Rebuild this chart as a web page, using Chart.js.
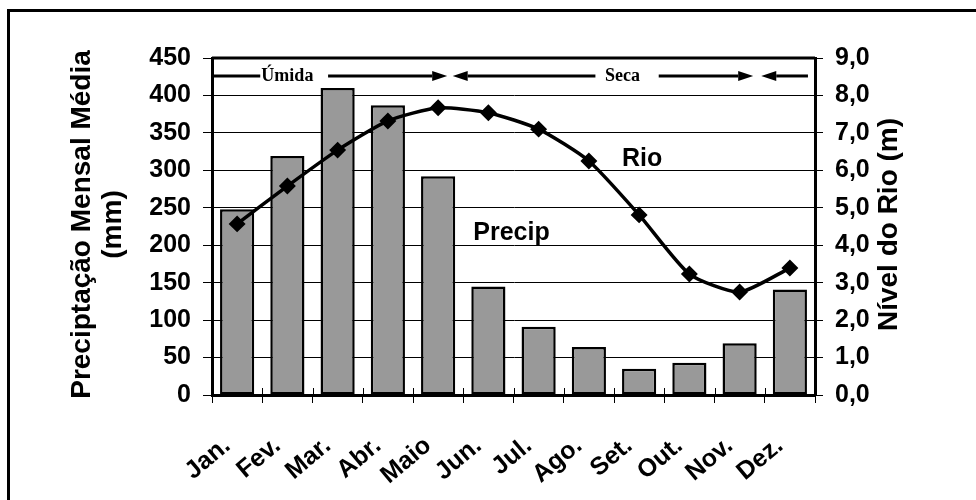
<!DOCTYPE html>
<html>
<head>
<meta charset="utf-8">
<script src="https://cdn.jsdelivr.net/npm/chart.js@4/dist/chart.umd.min.js"></script>
<style>
  html, body { margin: 0; padding: 0; background: #fff; }
  canvas { display: block; }
</style>
</head>
<body>
<canvas id="c" width="976" height="500"></canvas>
<script>
// ---- Data ----
const months = ["Jan.", "Fev.", "Mar.", "Abr.", "Maio", "Jun.", "Jul.", "Ago.", "Set.", "Out.", "Nov.", "Dez."];
const precipitation = [248, 319, 410, 387, 292, 145, 91, 64, 35, 43, 69, 141];
const riverLevel = [4.57, 5.58, 6.54, 7.32, 7.67, 7.54, 7.10, 6.25, 4.81, 3.23, 2.75, 3.39];
const leftAxisTitle = ["Preciptação Mensal Média", "(mm)"];
const rightAxisTitle = "Nível do Rio (m)";
const seasonLabels = ["Úmida", "Seca"];
const seriesLabels = ["Precip", "Rio"];

const FONT = "'Liberation Sans', Arial, sans-serif";
const SERIF = "'Liberation Serif', 'Times New Roman', serif";

const decorations = {
  id: 'decorations',
  afterDraw(chart) {
    const ctx = chart.ctx;
    const x = chart.scales.x, yL = chart.scales.y, yR = chart.scales.y2;
    const a = chart.chartArea;
    ctx.save();
    ctx.strokeStyle = '#000';
    ctx.fillStyle = '#000';
    // plot box top line
    ctx.lineWidth = 3;
    ctx.beginPath();
    ctx.moveTo(a.left, a.top); ctx.lineTo(a.right, a.top);
    ctx.stroke();
    // x tick marks above the axis
    ctx.lineWidth = 1;
    ctx.beginPath();
    for (let i = 0; i <= months.length; i++) {
      const px = Math.round(x.getPixelForValue(i - 0.5)) + 0.5;
      ctx.moveTo(px, a.bottom - 7); ctx.lineTo(px, a.bottom);
    }
    ctx.stroke();

    // outer frame (left and top)
    ctx.lineWidth = 3;
    ctx.beginPath();
    ctx.moveTo(8.5, 500); ctx.lineTo(8.5, 10.5); ctx.lineTo(976, 10.5);
    ctx.stroke();

    // season arrows
    const ay = yL.getPixelForValue(426);
    const seg = (i0, i1, head) => {
      const x0 = x.getPixelForValue(i0), x1 = x.getPixelForValue(i1);
      const dir = Math.sign(x1 - x0);
      const hl = head ? 15 : 0;
      ctx.lineWidth = 3;
      ctx.beginPath();
      ctx.moveTo(x0, ay); ctx.lineTo(x1 - dir * hl, ay);
      ctx.stroke();
      if (head) {
        ctx.beginPath();
        ctx.moveTo(x1, ay);
        ctx.lineTo(x1 - dir * hl, ay - 5);
        ctx.lineTo(x1 - dir * hl, ay + 5);
        ctx.closePath();
        ctx.fill();
      }
    };
    seg(-0.49, 0.46, false);
    seg(1.81, 4.18, true);
    seg(7.13, 4.29, true);
    seg(8.39, 10.27, true);
    seg(11.36, 10.43, true);
    ctx.font = "bold 18px " + SERIF;
    ctx.textAlign = 'center';
    ctx.textBaseline = 'middle';
    ctx.fillText(seasonLabels[0], x.getPixelForValue(1.0), ay);
    ctx.fillText(seasonLabels[1], x.getPixelForValue(7.67), ay);

    // series labels
    ctx.font = "bold 25px " + FONT;
    ctx.textAlign = 'left';
    ctx.textBaseline = 'alphabetic';
    ctx.fillText(seriesLabels[0], x.getPixelForValue(4.70), yL.getPixelForValue(207));
    ctx.fillText(seriesLabels[1], x.getPixelForValue(7.66), yR.getPixelForValue(6.12));

    // axis titles
    const cy = (a.top + a.bottom) / 2;
    ctx.font = "bold 28px " + FONT;
    ctx.textAlign = 'center';
    ctx.textBaseline = 'middle';
    ctx.save();
    ctx.translate(82, cy - 2);
    ctx.rotate(-Math.PI / 2);
    ctx.fillText(leftAxisTitle[0], 0, 0);
    ctx.restore();
    ctx.save();
    ctx.translate(113, cy - 2);
    ctx.rotate(-Math.PI / 2);
    ctx.fillText(leftAxisTitle[1], 0, 0);
    ctx.restore();
    ctx.save();
    ctx.translate(889, cy - 2);
    ctx.rotate(-Math.PI / 2);
    ctx.fillText(rightAxisTitle, 0, 0);
    ctx.restore();
    ctx.restore();
  }
};

new Chart(document.getElementById('c'), {
  data: {
    labels: months,
    datasets: [
      {
        type: 'line',
        label: 'Rio',
        data: riverLevel,
        yAxisID: 'y2',
        borderColor: '#000',
        backgroundColor: '#000',
        borderWidth: 3.5,
        pointStyle: 'rectRot',
        pointRadius: 6,
        pointBackgroundColor: '#000',
        pointBorderColor: '#000',
        tension: 0.2,
        order: 0
      },
      {
        type: 'bar',
        label: 'Precip',
        data: precipitation,
        yAxisID: 'y',
        backgroundColor: '#999999',
        borderColor: '#000',
        borderWidth: 2.5,
        borderSkipped: false,
        categoryPercentage: 1.0,
        barPercentage: 0.68,
        order: 1
      }
    ]
  },
  options: {
    responsive: false,
    devicePixelRatio: 1,
    animation: false,
    layout: { padding: { top: 58, left: 0, right: 0, bottom: 0 } },
    plugins: { legend: { display: false }, tooltip: { enabled: false } },
    scales: {
      x: {
        type: 'category',
        offset: true,
        grid: { display: true, drawOnChartArea: false, drawTicks: true, tickLength: 8, color: '#000', lineWidth: 1, offset: true },
        border: { display: true, color: '#000', width: 3 },
        ticks: { color: '#000', font: { family: FONT, weight: 'bold', size: 25 }, minRotation: 40, maxRotation: 40,
                 padding: 28, labelOffset: -10, autoSkip: false },
        afterFit(s) { s.height = 105; }
      },
      y: {
        position: 'left',
        min: 0, max: 450,
        grid: { color: '#000', lineWidth: 1, tickLength: 9, drawTicks: true },
        border: { display: true, color: '#000', width: 3 },
        ticks: { stepSize: 50, color: '#000', font: { family: FONT, weight: 'bold', size: 25 }, padding: 12 },
        afterFit(s) { s.width = 212; }
      },
      y2: {
        position: 'right',
        min: 0, max: 9,
        grid: { drawOnChartArea: false, color: '#000', lineWidth: 1, tickLength: 8, drawTicks: true },
        border: { display: true, color: '#000', width: 3 },
        ticks: { stepSize: 1, color: '#000', font: { family: FONT, weight: 'bold', size: 25 }, padding: 12,
                 callback: v => v.toFixed(1).replace('.', ',') },
        afterFit(s) { s.width = 161; }
      }
    }
  },
  plugins: [decorations]
});
</script>
</body>
</html>
